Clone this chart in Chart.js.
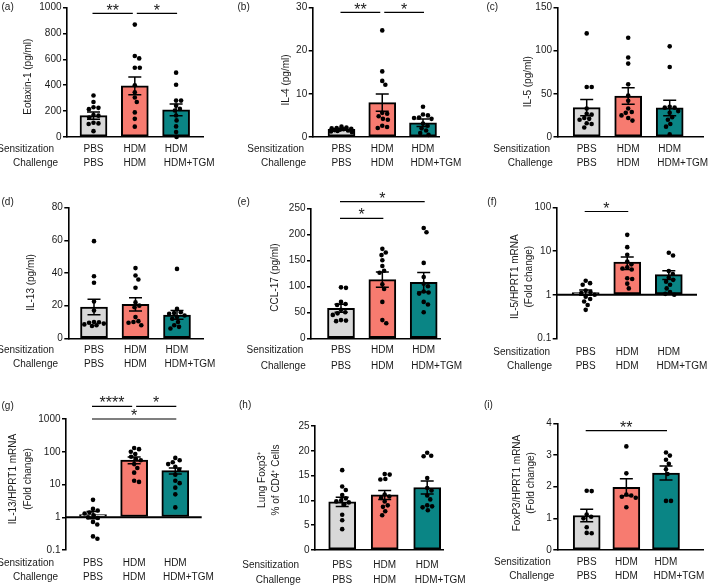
<!DOCTYPE html>
<html><head><meta charset="utf-8">
<script src="https://cdn.jsdelivr.net/npm/chart.js@4"></script>
<style>
html,body{margin:0;padding:0;background:#fff;}
#wrap{position:relative;width:709px;height:587px;overflow:hidden;background:#fff;}
#wrap canvas{position:absolute;left:0;top:0;}
</style></head><body><div id="wrap"></div>
<script>
// ---------- shared labels ----------
const sensitization = ["PBS", "HDM", "HDM"];
const challenge = ["PBS", "HDM", "HDM+TGM"];
const rowLabels = ["Sensitization", "Challenge"];

// ---------- (a) Eotaxin-1 ----------
const eotaxinMean = [165, 395, 210];
const eotaxinSem = [28, 68, 45];
const eotaxinPBS = [320, 270, 230, 225, 215, 170, 165, 150, 110, 105, 100, 45];
const eotaxinHDM = [868, 625, 607, 535, 535, 400, 345, 305, 270, 190, 140, 80];
const eotaxinTGM = [497, 403, 281, 281, 242, 217, 205, 166, 128, 82, 38, 0];
const eotaxinTicks = [0, 200, 400, 600, 800, 1000];

// ---------- (b) IL-4 ----------
const il4Mean = [1.75, 7.95, 3.3];
const il4Sem = [0.15, 2.0, 0.85];
const il4PBS = [2.4, 2.2, 2.1, 2.0, 1.9, 1.8, 1.7, 1.6, 1.5, 1.4, 1.3, 1.1];
const il4HDM = [24.7, 15.2, 13.0, 12.1, 5.6, 5.4, 4.8, 4.2, 4.0, 2.6, 2.3, 2.1];
const il4TGM = [7.0, 5.2, 5.0, 4.5, 4.4, 4.2, 3.1, 2.6, 2.0, 1.5, 0.9, 0.5];
const il4Ticks = [0, 10, 20, 30];

// ---------- (c) IL-5 ----------
const il5Mean = [34, 47.5, 33.7];
const il5Sem = [9.5, 9.5, 9];
const il5PBS = [120, 58, 58, 33, 27, 26, 22, 21, 20, 16, 15, 11];
const il5HDM = [115, 92, 85, 61, 48, 42, 33, 29, 28, 25, 22, 19];
const il5TGM = [105, 81, 35, 34, 34, 30, 28, 23, 20, 15, 12, 3];
const il5Ticks = [0, 50, 100, 150];

// ---------- (d) IL-13 ----------
const il13Mean = [19.2, 20.8, 14.3];
const il13Sem = [4.7, 4.1, 2.7];
const il13PBS = [59.5, 38, 34, 22.5, 17, 10, 9.8, 9.5, 9, 8.5, 8, 7.5];
const il13HDM = [43, 38.5, 36, 31, 22, 20, 19, 13, 10.5, 10, 9.5, 8];
const il13TGM = [42.5, 18, 16, 15.5, 15, 14, 13, 12, 10, 8, 7, 6];
const il13Ticks = [0, 20, 40, 60, 80];

// ---------- (e) CCL-17 ----------
const ccl17Mean = [57.7, 112.8, 107.7];
const ccl17Sem = [7.7, 14.8, 18.6];
const ccl17PBS = [98, 97, 70, 66, 64, 55, 50, 48, 45, 35, 34, 33];
const ccl17HDM = [172, 165, 160, 150, 139, 130, 126, 104, 95, 70, 35, 29];
const ccl17TGM = [212, 204, 145, 118, 105, 100, 90, 88, 86, 70, 65, 50];
const ccl17Ticks = [0, 50, 100, 150, 200, 250];

// ---------- (f) IL-5/HPRT1 mRNA ----------
const il5mMean = [1.13, 5.6, 2.9];
const il5mSem = [0.15, 1.8, 0.65];
const il5mPBS = [2.1, 1.85, 1.7, 1.25, 1.15, 1.1, 1.0, 0.9, 0.8, 0.7, 0.58, 0.45];
const il5mHDM = [23.8, 12.4, 8.3, 5.8, 5.0, 4.3, 4.0, 3.8, 2.4, 2.3, 1.8, 1.4];
const il5mTGM = [9.2, 8.0, 3.5, 3.0, 2.5, 2.2, 2.0, 1.7, 1.4, 1.15, 1.05, 1.0];
const il5mTicks = [0.1, 1, 10, 100];

// ---------- (g) IL-13/HPRT1 mRNA ----------
const il13mMean = [1.2, 56, 26.6];
const il13mSem = [0.3, 13, 5.5];
const il13mPBS = [3.4, 1.8, 1.6, 1.4, 1.3, 1.15, 1.0, 0.95, 0.72, 0.6, 0.26, 0.22];
const il13mHDM = [130, 120, 100, 85, 70, 60, 55, 42, 32, 23, 13, 12];
const il13mTGM = [65, 55, 48, 42, 35, 28, 20, 13, 11, 8, 5, 2];
const il13mTicks = [0.1, 1, 10, 100, 1000];

// ---------- (h) Lung Foxp3+ % of CD4+ ----------
const foxp3Mean = [9.7, 11.1, 12.6];
const foxp3Sem = [0.95, 0.9, 1.3];
const foxp3PBS = [16.1, 12.8, 12.1, 11.1, 10.4, 10.0, 9.8, 9.6, 9.2, 7.1, 6.0, 4.2];
const foxp3HDM = [15.3, 15.2, 14.3, 14.2, 11.2, 10.8, 10.5, 9.8, 9.0, 8.7, 7.8, 7.0];
const foxp3TGM = [19.6, 19.0, 18.9, 14.5, 12.5, 12.0, 11.0, 10.2, 9.0, 8.8, 8.6, 8.0];
const foxp3Ticks = [0, 5, 10, 15, 20, 25];

// ---------- (i) FoxP3/HPRT1 mRNA ----------
const foxp3mMean = [1.09, 1.98, 2.43];
const foxp3mSem = [0.2, 0.27, 0.22];
const foxp3mPBS = [1.87, 1.86, 1.12, 1.05, 1.0, 0.72, 0.54, 0.53];
const foxp3mHDM = [3.27, 2.42, 1.75, 1.72, 1.68, 1.65, 1.35];
const foxp3mTGM = [3.08, 2.98, 2.85, 2.72, 2.55, 2.4, 1.55, 1.55];
const foxp3mTicks = [0, 1, 2, 3, 4];

// ---------- styles ----------
const FONT = '"Liberation Sans", Arial, Helvetica, sans-serif';
const TXT = '#1a1a1a';
const BAR_COLORS = ['#d8d8d8', '#f77b70', '#0a8585'];

// ---------- panel definitions (layout in page pixels) ----------
const panels = [
  { tag: '(a)', title: ['Eotaxin-1 (pg/ml)'], mean: eotaxinMean, sem: eotaxinSem, pts: [eotaxinPBS, eotaxinHDM, eotaxinTGM], ticks: eotaxinTicks, log: false,
    sig: [[0, 1, '**', 954], [1, 2, '*', 954]],
    g: { L: 67, R: 203, T: 6, B: 137, c0: 93.5, c2: 176.1, tx: 28.3, ty: 76.7, lx: 1.5, ly: 7, r1: 12.3, r2: 26.3, sR: 54, cR: 58 } },
  { tag: '(b)', title: ['IL-4 (pg/ml)'], mean: il4Mean, sem: il4Sem, pts: [il4PBS, il4HDM, il4TGM], ticks: il4Ticks, log: false,
    sig: [[0, 1, '**', 28.85], [1, 2, '*', 28.85]],
    g: { L: 312.7, R: 440, T: 6, B: 137, c0: 341.5, c2: 423, tx: 286.7, ty: 80, lx: 237.5, ly: 7, r1: 12.3, r2: 26.3, sR: 304, cR: 306 } },
  { tag: '(c)', title: ['IL-5 (pg/ml)'], mean: il5Mean, sem: il5Sem, pts: [il5PBS, il5HDM, il5TGM], ticks: il5Ticks, log: false,
    sig: [],
    g: { L: 557.5, R: 703, T: 6, B: 137, c0: 586.7, c2: 669.7, tx: 528.5, ty: 81.7, lx: 486.5, ly: 7, r1: 12.3, r2: 25.8, sR: 550, cR: 552.7 } },
  { tag: '(d)', title: ['IL-13 (pg/ml)'], mean: il13Mean, sem: il13Sem, pts: [il13PBS, il13HDM, il13TGM], ticks: il13Ticks, log: false,
    sig: [],
    g: { L: 68.3, R: 203, T: 207.7, B: 338.3, c0: 94, c2: 177, tx: 31, ty: 282.5, lx: 1.5, ly: 202, r1: 11.9, r2: 26.2, sR: 54, cR: 58 } },
  { tag: '(e)', title: ['CCL-17 (pg/ml)'], mean: ccl17Mean, sem: ccl17Sem, pts: [ccl17PBS, ccl17HDM, ccl17TGM], ticks: ccl17Ticks, log: false,
    sig: [[0, 1, '*', 230.8], [0, 2, '*', 262.7]],
    g: { L: 311, R: 440, T: 208.3, B: 338.3, c0: 341, c2: 423.7, tx: 275, ty: 277.5, lx: 237.5, ly: 202, r1: 12.4, r2: 28.4, sR: 303.3, cR: 305.7 } },
  { tag: '(f)', title: ['IL-5/HPRT1 mRNA', '(Fold change)'], mean: il5mMean, sem: il5mSem, pts: [il5mPBS, il5mHDM, il5mTGM], ticks: il5mTicks, log: true,
    sig: [[0, 1, '*', 81.8]],
    g: { L: 556.7, R: 697, T: 207.7, B: 338.3, c0: 585.7, c2: 668.8, tx: 522.2, ty: 276.7, lx: 487.3, ly: 202, r1: 14, r2: 28.4, sR: 550, cR: 552 } },
  { tag: '(g)', title: ['IL-13/HPRT1 mRNA', '(Fold change)'], mean: il13mMean, sem: il13mSem, pts: [il13mPBS, il13mHDM, il13mTGM], ticks: il13mTicks, log: true,
    sig: [[0, 1, '****', 2440], [1, 2, '*', 2440], [0, 2, '*', 1000]],
    g: { L: 66, R: 201.7, T: 419, B: 550, c0: 93, c2: 175.3, tx: 20.8, ty: 479, lx: 1.5, ly: 406, r1: 13.3, r2: 27.7, sR: 54, cR: 58 } },
  { tag: '(h)', title: ['Lung Foxp3\u207A', '% of CD4\u207A Cells'], mean: foxp3Mean, sem: foxp3Sem, pts: [foxp3PBS, foxp3HDM, foxp3TGM], ticks: foxp3Ticks, log: false,
    sig: [],
    g: { L: 315, R: 443, T: 426, B: 550, c0: 342.2, c2: 427.2, tx: 269.2, ty: 480, lx: 239, ly: 405, r1: 15, r2: 30, sR: 299, cR: 300.7 } },
  { tag: '(i)', title: ['FoxP3/HPRT1 mRNA', '(Fold change)'], mean: foxp3mMean, sem: foxp3mSem, pts: [foxp3mPBS, foxp3mHDM, foxp3mTGM], ticks: foxp3mTicks, log: false,
    sig: [[0, 2, '**', 3.77]],
    g: { L: 557.3, R: 703, T: 423.3, B: 550, c0: 586.7, c2: 666, tx: 524.2, ty: 483, lx: 484, ly: 405, r1: 12.7, r2: 26.7, sR: 550.7, cR: 554.3 } }
];

// ---------- beeswarm offsets (pixels), deterministic, capped to bar width ----------
function swarm(vals, py, d, cap) {
  const order = vals.map((v, i) => i).sort((a, b) => vals[b] - vals[a]);
  const placed = [];
  const off = new Array(vals.length).fill(0);
  const minDist = (c, y, near) => near.reduce((m, p) => Math.min(m, Math.hypot(p.x - c, p.y - y)), Infinity);
  for (const i of order) {
    const y = py(vals[i]);
    const near = placed.filter(p => Math.abs(p.y - y) < d);
    const cands = [0];
    for (const p of near) {
      const dx = Math.sqrt(d * d - (p.y - y) * (p.y - y));
      cands.push(p.x + dx, p.x - dx);
    }
    const ok = cands.filter(c => Math.abs(c) <= cap).sort((a, b) => Math.abs(a) - Math.abs(b));
    let x = null;
    for (const c of ok) {
      if (minDist(c, y, near) >= d - 1e-6) { x = c; break; }
    }
    if (x === null) {
      let best = -1;
      for (let c = -cap; c <= cap + 1e-9; c += 0.5) {
        const md = minDist(c, y, near);
        if (md > best + 1e-9) { best = md; x = c; }
      }
    }
    placed.push({ x, y });
    off[i] = x;
  }
  return off;
}

function makeDeco(p) {
  return {
    id: 'deco',
    afterDatasetsDraw(chart) {
      const ctx = chart.ctx, xs = chart.scales.x, ys = chart.scales.y, g = p.g;
      ctx.save();
      ctx.strokeStyle = '#000';
      ctx.fillStyle = TXT;
      if (p.log) {
        const y1 = ys.getPixelForValue(1);
        ctx.lineWidth = 2;
        ctx.beginPath(); ctx.moveTo(xs.left, y1); ctx.lineTo(xs.right, y1); ctx.stroke();
      }
      ctx.lineWidth = 1.5;
      p.mean.forEach((m, i) => {
        const cx = xs.getPixelForValue(i);
        const yt = ys.getPixelForValue(m + p.sem[i]);
        const yb = ys.getPixelForValue(m - p.sem[i]);
        ctx.beginPath();
        ctx.moveTo(cx, yt); ctx.lineTo(cx, yb);
        ctx.moveTo(cx - 6.5, yt); ctx.lineTo(cx + 6.5, yt);
        ctx.moveTo(cx - 6.5, yb); ctx.lineTo(cx + 6.5, yb);
        ctx.stroke();
      });
      p.sig.forEach(([a, b, label, v]) => {
        const y = ys.getPixelForValue(v);
        const shareA = p.sig.some(s => s[3] === v && s[1] === a);
        const shareB = p.sig.some(s => s[3] === v && s[0] === b);
        const x1 = xs.getPixelForValue(a) + (shareA ? 2 : -1);
        const x2 = xs.getPixelForValue(b) - (shareB ? 2 : -1);
        ctx.lineWidth = 1.2;
        ctx.beginPath(); ctx.moveTo(x1, y); ctx.lineTo(x2, y); ctx.stroke();
        ctx.font = '16px ' + FONT;
        ctx.textAlign = 'center';
        ctx.textBaseline = 'alphabetic';
        ctx.fillText(label, (x1 + x2) / 2, y - 7 + 0.57 * 16);
      });
      ctx.font = '10px ' + FONT;
      ctx.textAlign = 'left'; ctx.textBaseline = 'middle';
      ctx.fillText(p.tag, g.lx, g.ly);
      ctx.save();
      ctx.translate(g.tx, g.ty);
      ctx.rotate(-Math.PI / 2);
      ctx.textAlign = 'center'; ctx.textBaseline = 'middle';
      const n = p.title.length, sp = 14.5;
      p.title.forEach((t, k) => ctx.fillText(t, 0, (k - (n - 1) / 2) * sp));
      ctx.restore();
      const yr1 = ys.bottom + g.r1, yr2 = ys.bottom + g.r2;
      ctx.textAlign = 'right';
      ctx.fillText(rowLabels[0], g.sR, yr1);
      ctx.fillText(rowLabels[1], g.cR, yr2);
      const hdmW = ctx.measureText('HDM').width;
      for (let i = 0; i < 3; i++) {
        const cx = xs.getPixelForValue(i);
        ctx.textAlign = 'center';
        ctx.fillText(sensitization[i], cx, yr1);
        if (challenge[i].length > 4) {
          ctx.textAlign = 'left';
          ctx.fillText(challenge[i], cx - hdmW / 2 - 1, yr2);
        } else {
          ctx.fillText(challenge[i], cx, yr2);
        }
      }
      ctx.restore();
    }
  };
}

const wrap = document.getElementById('wrap');
const YW = 40;

panels.forEach(p => {
  const g = p.g;
  const s = (g.c2 - g.c0) / 2;
  const xMin = -(g.c0 - g.L) / s, xMax = 2 + (g.R - g.c2) / s;
  const yMin = p.ticks[0], yMax = p.ticks[p.ticks.length - 1];
  const lg = Math.log10;
  const py = v => p.log
    ? g.B - (lg(v) - lg(yMin)) / (lg(yMax) - lg(yMin)) * (g.B - g.T)
    : g.B - (v - yMin) / (yMax - yMin) * (g.B - g.T);
  const pts = [];
  p.pts.forEach((arr, i) => {
    const off = swarm(arr, py, 5, 10.5);
    arr.forEach((v, k) => pts.push({ x: i + off[k] / s, y: v }));
  });
  const cv = document.createElement('canvas');
  cv.width = 709; cv.height = 587;
  wrap.appendChild(cv);
  new Chart(cv, {
    type: 'bar',
    data: {
      datasets: [
        {
          type: 'bar',
          data: p.mean.map((m, i) => ({ x: i, y: m })),
          backgroundColor: BAR_COLORS,
          borderColor: '#000',
          borderWidth: 2,
          borderSkipped: false,
          barThickness: 27,
          base: p.log ? 1 : 0,
          order: 2
        },
        {
          type: 'scatter',
          data: pts,
          pointRadius: 2.3,
          pointBackgroundColor: '#000',
          pointBorderWidth: 0,
          showLine: false,
          clip: false,
          order: 1
        }
      ]
    },
    options: {
      responsive: false,
      animation: false,
      devicePixelRatio: 1,
      events: [],
      layout: { padding: { left: g.L - YW, right: 709 - g.R, top: g.T, bottom: 587 - g.B } },
      plugins: { legend: { display: false }, tooltip: { enabled: false } },
      scales: {
        x: {
          type: 'linear', min: xMin, max: xMax, offset: false,
          ticks: { display: false },
          grid: { display: false, drawTicks: false, offset: false },
          border: { display: !p.log, color: '#000', width: 1.6 },
          afterFit(sc) { sc.height = 0; }
        },
        y: {
          type: p.log ? 'logarithmic' : 'linear',
          min: yMin, max: yMax,
          afterFit(sc) { sc.width = YW; },
          afterBuildTicks(sc) { sc.ticks = p.ticks.map(v => ({ value: v })); },
          ticks: { font: { family: FONT, size: 10 }, color: TXT, padding: 1.5, callback: v => String(v) },
          grid: { drawOnChartArea: false, tickLength: 4, color: '#000', lineWidth: 1.5 },
          border: { color: '#000', width: 1.6 }
        }
      }
    },
    plugins: [makeDeco(p)]
  });
});
</script>
</body></html>
